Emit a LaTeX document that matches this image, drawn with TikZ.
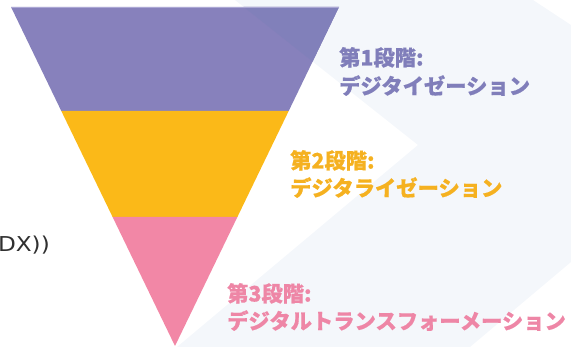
\documentclass[tikz,border=0pt]{standalone}
\usepackage{fontspec}
\newfontfamily\jp{Noto Sans CJK JP}[BoldFeatures={FakeBold=0.6}]
\newfontfamily\dxfont{DejaVu Sans}
\definecolor{bandc}{HTML}{F4F7FB}
\definecolor{purpc}{HTML}{8781BC}
\definecolor{purpb}{HTML}{8180BA}
\definecolor{purpl}{HTML}{ABA7D4}
\definecolor{yellc}{HTML}{FBB918}
\definecolor{pinkc}{HTML}{F287A6}
\definecolor{purpt}{HTML}{807EBA}
\definecolor{yellt}{HTML}{F5B120}
\definecolor{pinkt}{HTML}{EE86A6}
\definecolor{darkt}{HTML}{303030}
\tikzset{
  stagelbl/.style={inner sep=0pt, anchor=base west, font=\jp\bfseries\fontsize{21.3pt}{24pt}\selectfont},
}
\begin{document}
\begin{tikzpicture}[x=1pt,y=-1pt]
\useasboundingbox (0,0) rectangle (571,347);
\clip (0,0) rectangle (571,347);
% background chevron band
\fill[bandc] (235,0) -- (533,0) -- (571,25) -- (571,262) -- (470,347) -- (177,347) -- (418,145) -- cycle;
% funnel
\coordinate (tl) at (11,7);
\coordinate (tr) at (339,7);
\coordinate (al) at (61.3,111);
\coordinate (ar) at (288.7,111);
\coordinate (bl) at (112.6,217);
\coordinate (br) at (237.4,217);
\coordinate (ap) at (175,346);
\fill[purpc] (tl) -- (tr) -- (ar) -- (al) -- cycle;
\begin{scope}
  \clip (235,0) -- (533,0) -- (571,25) -- (571,262) -- (470,347) -- (177,347) -- (418,145) -- cycle;
  \fill[purpb] (tl) -- (tr) -- (ar) -- (al) -- cycle;
\end{scope}
\draw[purpl, line width=0.8pt] (tl) -- (tr);
\fill[yellc] (al) -- (ar) -- (br) -- (bl) -- cycle;
\fill[pinkc] (bl) -- (br) -- (ap) -- cycle;
% labels
\node[stagelbl, text=purpt] (s1a) at (339,65.5) {第1段階:};
\node[stagelbl, text=purpt] (s1b) at (339,94) {デジタイゼーション};
\node[stagelbl, text=yellt] (s2a) at (290,168.5) {第2段階:};
\node[stagelbl, text=yellt] (s2b) at (290,196) {デジタライゼーション};
\node[stagelbl, text=pinkt] (s3a) at (227,301.5) {第3段階:};
\node[stagelbl, text=pinkt] (s3b) at (227,329) {デジタルトランスフォーメーション};
\node[inner sep=0pt, anchor=base east, text=darkt, font=\dxfont\fontsize{20.5pt}{24pt}\selectfont] (dx) at (50,251.7) {\scalebox{1.13}[1]{DX))}};
\end{tikzpicture}
\end{document}
